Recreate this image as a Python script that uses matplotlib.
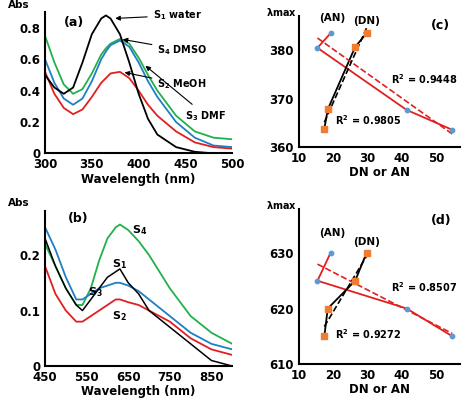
import matplotlib.pyplot as plt
import numpy as np

# panel (a): UV-vis spectra
wl_a = [300, 310, 320, 330, 340, 350, 360, 365, 370, 380, 390, 400, 410, 420, 440, 460, 480, 500]
s1_water = [0.50, 0.42, 0.38, 0.42, 0.58, 0.76, 0.86, 0.88, 0.86, 0.76, 0.58, 0.38, 0.22, 0.12, 0.04, 0.01, 0.00, 0.00]
s2_meoh = [0.52, 0.38, 0.29, 0.25, 0.28, 0.36, 0.45, 0.48, 0.51, 0.52, 0.48, 0.40, 0.31, 0.24, 0.14, 0.07, 0.04, 0.03]
s4_dmso = [0.60, 0.45, 0.35, 0.31, 0.35, 0.46, 0.60, 0.65, 0.69, 0.72, 0.68, 0.58, 0.46, 0.36, 0.20, 0.10, 0.05, 0.04]
s3_dmf = [0.75, 0.58, 0.44, 0.38, 0.41, 0.51, 0.63, 0.67, 0.70, 0.73, 0.70, 0.61, 0.50, 0.40, 0.24, 0.14, 0.10, 0.09]

# panel (b)
wl_b = [450, 475, 500, 525, 540, 560, 580, 600, 620, 630, 650, 675, 700, 750, 800, 850, 900]
b_s1 = [0.23, 0.18, 0.14, 0.11, 0.10, 0.12, 0.14, 0.16, 0.17, 0.175, 0.15, 0.13, 0.10, 0.07, 0.04, 0.01, 0.00]
b_s2 = [0.18, 0.13, 0.10, 0.08, 0.08, 0.09, 0.10, 0.11, 0.12, 0.12, 0.115, 0.11, 0.10, 0.08, 0.05, 0.03, 0.02]
b_s3 = [0.25, 0.21, 0.16, 0.12, 0.12, 0.13, 0.14, 0.145, 0.15, 0.15, 0.145, 0.135, 0.12, 0.09, 0.06, 0.04, 0.03]
b_s4 = [0.22, 0.18, 0.14, 0.11, 0.11, 0.14, 0.19, 0.23, 0.25, 0.255, 0.245, 0.225, 0.20, 0.14, 0.09, 0.06, 0.04]

# panels (c), (d): lambda max vs AN / DN
an = [19.3, 15.5, 41.5, 54.8]
dn = [17.5, 18.5, 26.5, 29.8]
lam_c_an = [383.5, 380.5, 367.7, 363.6]
lam_c_dn = [363.8, 367.8, 380.7, 383.5]
lam_d_an = [630, 625, 620, 615]
lam_d_dn = [615, 620, 625, 630]

plt.rcParams['font.family'] = 'DejaVu Sans'
plt.rcParams['font.weight'] = 'bold'
fig = plt.figure(figsize=(4.74, 4.09), dpi=100)

ax_a = fig.add_axes([0.095, 0.625, 0.395, 0.345])
ax_b = fig.add_axes([0.095, 0.105, 0.395, 0.38])
ax_c = fig.add_axes([0.63, 0.64, 0.34, 0.32])
ax_d = fig.add_axes([0.63, 0.11, 0.34, 0.38])

for ax in (ax_a, ax_b, ax_c, ax_d):
    for s in ('top', 'right'):
        ax.spines[s].set_visible(False)
    ax.spines['left'].set_linewidth(1.5)
    ax.spines['bottom'].set_linewidth(1.5)
    ax.tick_params(labelsize=8.5, length=0)

# (a)
ax_a.plot(wl_a, s3_dmf, color='#22b04b', lw=1.3)
ax_a.plot(wl_a, s4_dmso, color='#1f7fc4', lw=1.3)
ax_a.plot(wl_a, s2_meoh, color='#e02020', lw=1.3)
ax_a.plot(wl_a, s1_water, color='black', lw=1.3)
ax_a.set_xlim(300, 500)
ax_a.set_ylim(0, 0.9)
ax_a.set_xticks([300, 350, 400, 450, 500])
ax_a.set_yticks([0, 0.2, 0.4, 0.6, 0.8])
ax_a.set_yticklabels(['0', '0.2', '0.4', '0.6', '0.8'])
ax_a.set_xlabel('Wavelength (nm)', fontsize=8.5, fontweight='bold', labelpad=1)
ax_a.text(-0.2, 1.03, 'Abs', transform=ax_a.transAxes, fontsize=7.5, fontweight='bold')
ax_a.text(0.1, 0.9, '(a)', transform=ax_a.transAxes, fontsize=9, fontweight='bold')
arrow = dict(arrowstyle='-|>', color='black', lw=0.8)
ax_a.annotate('S$_1$ water', xy=(372, 0.86), xytext=(415, 0.86), fontsize=7, arrowprops=arrow)
ax_a.annotate('S$_4$ DMSO', xy=(380, 0.73), xytext=(420, 0.64), fontsize=7, arrowprops=arrow)
ax_a.annotate('S$_2$ MeOH', xy=(382, 0.52), xytext=(420, 0.42), fontsize=7, arrowprops=arrow)
ax_a.annotate('S$_3$ DMF', xy=(405, 0.57), xytext=(450, 0.22), fontsize=7, arrowprops=arrow)

# (b)
ax_b.plot(wl_b, b_s4, color='#22b04b', lw=1.3)
ax_b.plot(wl_b, b_s3, color='#1f7fc4', lw=1.3)
ax_b.plot(wl_b, b_s2, color='#e02020', lw=1.3)
ax_b.plot(wl_b, b_s1, color='black', lw=1.1)
ax_b.set_xlim(450, 900)
ax_b.set_ylim(0, 0.28)
ax_b.set_xticks([450, 550, 650, 750, 850])
ax_b.set_yticks([0, 0.1, 0.2])
ax_b.set_yticklabels(['0', '0.1', '0.2'])
ax_b.set_xlabel('Wavelength (nm)', fontsize=8.5, fontweight='bold', labelpad=1)
ax_b.text(-0.2, 1.03, 'Abs', transform=ax_b.transAxes, fontsize=7.5, fontweight='bold')
ax_b.text(0.12, 0.93, '(b)', transform=ax_b.transAxes, fontsize=9, fontweight='bold')
ax_b.text(660, 0.24, 'S$_4$', fontsize=8)
ax_b.text(612, 0.178, 'S$_1$', fontsize=8)
ax_b.text(553, 0.128, 'S$_3$', fontsize=8)
ax_b.text(612, 0.085, 'S$_2$', fontsize=8)


def solvent_panel(ax, lam_an, lam_dn, ylim, yticks, label, r2_an, r2_dn, r2_an_pos, r2_dn_pos, an_pos, dn_pos):
    ax.plot(an, lam_an, color='#e02020', lw=1.3)
    ax.plot(dn, lam_dn, color='black', lw=1.3)
    fit = np.polyfit(an, lam_an, 1)
    xs = np.array([min(an), max(an)])
    ax.plot(xs, np.polyval(fit, xs), color='#e02020', lw=1.2, ls='--')
    fit = np.polyfit(dn, lam_dn, 1)
    xs = np.array([min(dn), max(dn)])
    ax.plot(xs, np.polyval(fit, xs), color='black', lw=1.2, ls='--')
    ax.scatter(an, lam_an, s=10, color='#5b9bd5', zorder=3)
    ax.scatter(dn, lam_dn, s=18, marker='s', color='#ed7d31', zorder=3)
    ax.set_xlim(10, 57)
    ax.set_ylim(*ylim)
    ax.set_xticks([10, 20, 30, 40, 50])
    ax.set_yticks(yticks)
    ax.set_xlabel('DN or AN', fontsize=8.5, fontweight='bold', labelpad=1)
    ax.text(-0.2, 1.0, r'$\mathbf{\lambda}$max', transform=ax.transAxes, fontsize=7, fontweight='bold')
    ax.text(0.82, 0.9, label, transform=ax.transAxes, fontsize=9, fontweight='bold')
    ax.text(*r2_an_pos, 'R$^2$ = ' + r2_an, fontsize=7)
    ax.text(*r2_dn_pos, 'R$^2$ = ' + r2_dn, fontsize=7)
    ax.text(*an_pos, '(AN)', fontsize=7.5)
    ax.text(*dn_pos, '(DN)', fontsize=7.5)


solvent_panel(ax_c, lam_c_an, lam_c_dn, (360, 387), [360, 370, 380], '(c)',
              '0.9448', '0.9805', (37, 373), (20.5, 364.5), (16, 386), (26, 385.5))
solvent_panel(ax_d, lam_d_an, lam_d_dn, (610, 638), [610, 620, 630], '(d)',
              '0.8507', '0.9272', (37, 623), (20.5, 614.5), (16, 633), (26, 631.5))

plt.savefig('out.png', dpi=100)
